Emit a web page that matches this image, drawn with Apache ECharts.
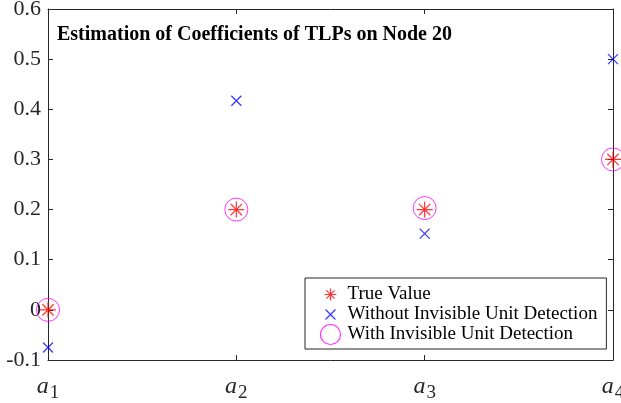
<!DOCTYPE html>
<html>
<head>
<meta charset="utf-8">
<script src="https://cdn.jsdelivr.net/npm/echarts@6/dist/echarts.min.js"></script>
<style>
  html, body { margin: 0; padding: 0; background: #fff; }
  #chart { width: 621px; height: 403px; }
</style>
</head>
<body>
<div id="chart"></div>
<script>
// coefficient index 1..4 -> a_1..a_4
const positions = [1, 2, 3, 4];
const tickSubs = ['1', '2', '3', '4'];
const trueValue = [0, 0.2, 0.2, 0.3];
const withoutDetection = [-0.075, 0.417, 0.152, 0.5];
const withDetection = [0, 0.2, 0.203, 0.3];

const serif = 'Liberation Serif, Times New Roman, serif';
const axisColor = '#262626';
const asteriskPath = 'M0,-10L0,10M-10,0L10,0M-7.07,-7.07L7.07,7.07M-7.07,7.07L7.07,-7.07';
const crossPath = 'M-10,-10L10,10M-10,10L10,-10';
// legend icons: same shapes, padded with move-tos so they draw smaller in the box
const asterisk = 'path://' + asteriskPath;
const cross = 'path://' + crossPath;
const asteriskIcon = 'path://M-17,-17M17,17' + asteriskPath;
const crossIcon = 'path://M-20,-20M20,20' + crossPath;

const pairs = (vals) => positions.map((p, i) => [p, vals[i]]);

const chart = echarts.init(document.getElementById('chart'));
chart.setOption({
  animation: false,
  title: {
    text: 'Estimation of Coefficients of TLPs on Node 20',
    left: 52,
    top: 20,
    textStyle: { fontFamily: serif, fontWeight: 'bold', fontSize: 20, color: '#000' }
  },
  grid: { left: 48, right: 8, top: 9, bottom: 43, outerBoundsMode: 'none' },
  legend: {
    orient: 'vertical',
    left: 305,
    top: 278,
    itemWidth: 24,
    itemHeight: 20,
    itemGap: -5,
    padding: [4, 9, 2, 13],
    borderColor: axisColor,
    borderWidth: 1,
    backgroundColor: '#fff',
    textStyle: { fontFamily: serif, fontSize: 19, lineHeight: 20, color: '#000' },
    data: [
      { name: 'True Value', icon: asteriskIcon, itemStyle: { color: 'none', borderColor: '#ff0000', borderWidth: 1.2 } },
      { name: 'Without Invisible Unit Detection', icon: crossIcon, itemStyle: { color: 'none', borderColor: '#0000ff', borderWidth: 1.2 } },
      { name: 'With Invisible Unit Detection', icon: 'circle', itemStyle: { color: 'none', borderColor: '#ff00ff', borderWidth: 1.2 } }
    ]
  },
  xAxis: [
    {
      type: 'value', min: 1, max: 4, interval: 1,
      axisLine: { onZero: false, lineStyle: { color: axisColor } },
      axisTick: { inside: true, length: 5, lineStyle: { color: axisColor } },
      splitLine: { show: false },
      axisLabel: {
        margin: 10,
        formatter: (v) => '{a|a}{s|' + tickSubs[v - 1] + '}',
        rich: {
          a: { fontFamily: serif, fontStyle: 'italic', fontSize: 24, color: axisColor },
          s: { fontFamily: serif, fontSize: 19, color: axisColor, padding: [14, 0, 0, 1] }
        }
      }
    },
    {
      type: 'value', min: 1, max: 4, interval: 1, position: 'top',
      axisLine: { onZero: false, lineStyle: { color: axisColor } },
      axisTick: { inside: true, length: 5, lineStyle: { color: axisColor } },
      axisLabel: { show: false },
      splitLine: { show: false }
    }
  ],
  yAxis: [
    {
      type: 'value', min: -0.1, max: 0.6, interval: 0.1,
      axisLine: { show: true, onZero: false, lineStyle: { color: axisColor } },
      axisTick: { show: true, inside: true, length: 5, lineStyle: { color: axisColor } },
      splitLine: { show: false },
      axisLabel: {
        margin: 7,
        fontFamily: serif, fontSize: 22, color: axisColor,
        formatter: (v) => String(Math.round(v * 10) / 10)
      }
    },
    {
      type: 'value', min: -0.1, max: 0.6, interval: 0.1, position: 'right',
      axisLine: { show: true, onZero: false, lineStyle: { color: axisColor } },
      axisTick: { show: true, inside: true, length: 5, lineStyle: { color: axisColor } },
      axisLabel: { show: false },
      splitLine: { show: false }
    }
  ],
  series: [
    {
      name: 'With Invisible Unit Detection', type: 'scatter', clip: false,
      data: pairs(withDetection), symbol: 'circle', symbolSize: 23,
      itemStyle: { color: 'none', borderColor: '#ff00ff', borderWidth: 1 }
    },
    {
      name: 'Without Invisible Unit Detection', type: 'scatter', clip: false,
      data: pairs(withoutDetection), symbol: cross, symbolSize: 10,
      itemStyle: { color: 'none', borderColor: '#0000ff', borderWidth: 1.2 }
    },
    {
      name: 'True Value', type: 'scatter', clip: false,
      data: pairs(trueValue), symbol: asterisk, symbolSize: 16,
      itemStyle: { color: 'none', borderColor: '#ff0000', borderWidth: 1.2 }
    }
  ]
});
</script>
</body>
</html>
